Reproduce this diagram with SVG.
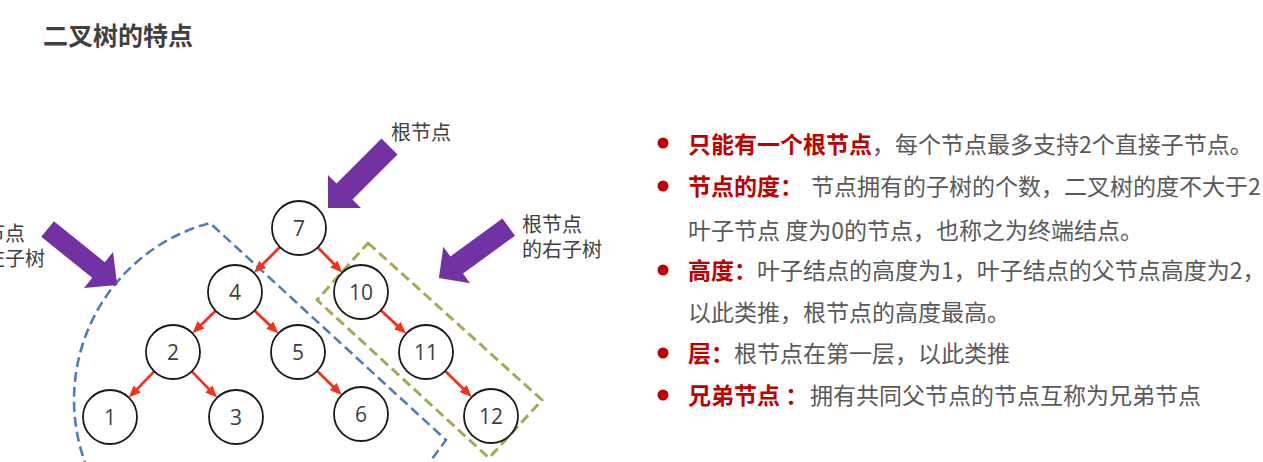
<svg xmlns="http://www.w3.org/2000/svg" width="1263" height="462" viewBox="0 0 1263 462">
<defs>
<style>
.cjk{font-family:"Noto Sans CJK SC","Noto Sans",sans-serif}
.title{font-size:25px;font-weight:bold;fill:#404040}
.lbl{font-size:20px;fill:#404040}
.body{font-size:23px;fill:#595959}
.em{font-weight:bold;fill:#c00000}
.node circle{fill:#fff;stroke:#1a1a1a;stroke-width:1.8}
.node text{font-family:"Open Sans","Noto Sans",sans-serif;font-size:21px;fill:#404040;text-anchor:middle}
.edge{stroke:#f5321c;stroke-width:2.8;fill:none;marker-end:url(#ah)}
.purple{fill:#7232a3}
.dash-blue{fill:none;stroke:#4f7fb3;stroke-width:2.6;stroke-dasharray:10 5}
.dash-green{fill:none;stroke:#9bb053;stroke-width:3;stroke-dasharray:10 5}
.bullet{fill:#c00000}
</style>
<marker id="ah" viewBox="0 0 12 10" refX="3" refY="5" markerWidth="12" markerHeight="10" markerUnits="userSpaceOnUse" orient="auto">
<path d="M0,0 L12,5 L0,10 z" fill="#f5321c"/>
</marker>
</defs>
<rect width="1263" height="462" fill="#fff"/>
<text class="cjk title" x="43" y="45">二叉树的特点</text>

<g id="subtree-outlines">
<path class="dash-blue" d="M88,470 A183,183 0 0 1 210,223 L446,440 L426,467"/>
<polygon class="dash-green" points="368,243 542,400 489,458 317,300"/>
</g>

<g id="pointers">
<polygon class="purple" points="328,208 328,175 336.5,183.5 381.5,138.5 397.5,154.5 352.5,199.5 361,208"/>
<polygon class="purple" points="117.2,285.1 113,252 104.8,262.2 53.9,221.2 41.3,236.8 92.2,277.8 84,288"/>
<polygon class="purple" points="438.9,278 443.3,246.7 450.4,256.4 502.4,218.5 515,235.7 463,273.6 470,283.3"/>
</g>

<g id="labels" class="cjk lbl">
<text x="391" y="140">根节点</text>
<text y="231.5"><tspan x="522">根节点</tspan><tspan x="522" dy="25">的右子树</tspan></text>
<text y="241"><tspan x="-35">根节点</tspan><tspan x="-35" dy="25">的左子树</tspan></text>
</g>

<g id="connectors">
<line class="edge" x1="279.9" y1="247.1" x2="260.5" y2="266.5"/>
<line class="edge" x1="317.8" y1="247.4" x2="336.0" y2="266.1"/>
<line class="edge" x1="215.6" y1="310.8" x2="198.9" y2="327.0"/>
<line class="edge" x1="254.6" y1="310.6" x2="271.9" y2="327.2"/>
<line class="edge" x1="154.2" y1="371.4" x2="135.1" y2="391.1"/>
<line class="edge" x1="191.8" y1="371.4" x2="210.9" y2="391.1"/>
<line class="edge" x1="317.2" y1="370.9" x2="335.3" y2="388.7"/>
<line class="edge" x1="380.8" y1="310.3" x2="399.5" y2="327.6"/>
<line class="edge" x1="445.2" y1="370.9" x2="465.3" y2="390.7"/>
</g>

<g id="n7" class="node"><circle cx="299" cy="228" r="27"/><text x="299" y="235.5">7</text></g>
<g id="n4" class="node"><circle cx="235" cy="292" r="27"/><text x="235" y="299.5">4</text></g>
<g id="n10" class="node"><circle cx="361" cy="292" r="27"/><text x="361" y="299.5">10</text></g>
<g id="n2" class="node"><circle cx="173" cy="352" r="27"/><text x="173" y="359.5">2</text></g>
<g id="n5" class="node"><circle cx="298" cy="352" r="27"/><text x="298" y="359.5">5</text></g>
<g id="n11" class="node"><circle cx="426" cy="352" r="27"/><text x="426" y="359.5">11</text></g>
<g id="n1" class="node"><circle cx="110" cy="417" r="27"/><text x="110" y="424.5">1</text></g>
<g id="n3" class="node"><circle cx="236" cy="417" r="27"/><text x="236" y="424.5">3</text></g>
<g id="n6" class="node"><circle cx="361" cy="414" r="27"/><text x="361" y="421.5">6</text></g>
<g id="n12" class="node"><circle cx="491" cy="416" r="27"/><text x="491" y="423.5">12</text></g>

<g id="notes" class="cjk body">
<circle class="bullet" cx="663" cy="143" r="5.5"/>
<text y="152.5"><tspan x="688" class="em">只能有一个根节点</tspan><tspan x="872">，每个节点最多支持2个直接子节点。</tspan></text>
<circle class="bullet" cx="663" cy="186" r="5.5"/>
<text y="195"><tspan x="688" class="em">节点的度：</tspan><tspan x="811">节点拥有的子树的个数，二叉树的度不大于2</tspan></text>
<text x="688" y="238.5">叶子节点 度为0的节点，也称之为终端结点。</text>
<circle class="bullet" cx="663" cy="270" r="5.5"/>
<text y="278.5"><tspan x="688" class="em">高度：</tspan><tspan x="757">叶子结点的高度为1，叶子结点的父节点高度为2，</tspan></text>
<text x="688" y="320.5">以此类推，根节点的高度最高。</text>
<circle class="bullet" cx="663" cy="353" r="5.5"/>
<text y="361.5"><tspan x="688" class="em">层：</tspan><tspan x="734">根节点在第一层，以此类推</tspan></text>
<circle class="bullet" cx="663" cy="395" r="5.5"/>
<text y="403.5"><tspan x="688" class="em">兄弟节点 ：</tspan><tspan x="810">拥有共同父节点的节点互称为兄弟节点</tspan></text>
</g>
</svg>
